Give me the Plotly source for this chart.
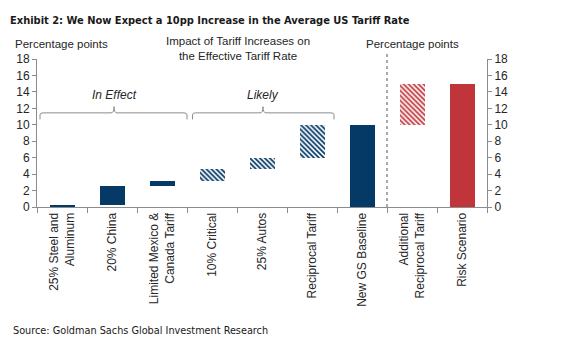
import plotly.graph_objects as go

# ---- data -------------------------------------------------------------
categories = [
    "25% Steel and<br>Aluminum",
    "20% China",
    "Limited Mexico &<br>Canada Tariff",
    "10% Critical",
    "25% Autos",
    "Reciprocal Tariff",
    "New GS Baseline",
    "Additional<br>Reciprocal Tariff",
    "Risk Scenario",
]
bar_bottom = [0.0, 0.3, 2.6, 3.2, 4.6, 6.0, 0.0, 10.0, 0.0]
bar_top = [0.3, 2.6, 3.2, 4.6, 6.0, 10.0, 10.0, 15.0, 15.0]
y_ticks = [0, 2, 4, 6, 8, 10, 12, 14, 16, 18]

# which bars belong to which drawing style
solid_navy = [0, 1, 2, 6]
hatched_navy = [3, 4, 5]
hatched_red = [7]
solid_red = [8]

NAVY = "#053a66"
RED = "#c0353a"
GRID = "#8c8c8c"
TXT = "#262626"
FONT = "Liberation Sans, Arial, sans-serif"
NARROW = "Liberation Sans Narrow, Arial Narrow, DejaVu Sans Condensed, sans-serif"

W, H = 577, 345
ML, MR, MT, MB = 37, 90, 59, 138
PW, PH = W - ML - MR, H - MT - MB


def px_x(px):
    return (px - ML) / PW


def px_y(py):
    return (H - MB - py) / PH


def bar_trace(idx, color, hatch, yaxis="y"):
    xs = [categories[i] for i in idx]
    base = [bar_bottom[i] for i in idx]
    height = [bar_top[i] - bar_bottom[i] for i in idx]
    marker = dict(color=color, line=dict(width=0))
    if hatch:
        marker = dict(
            color="white",
            line=dict(width=0),
            pattern=dict(shape="\\", fgcolor=color, bgcolor="white",
                         size=3.5, solidity=0.5, fillmode="replace"),
        )
    return go.Bar(x=xs, y=height, base=base, width=0.5, marker=marker,
                  yaxis=yaxis, showlegend=False, hoverinfo="skip")


fig = go.Figure()
fig.add_trace(bar_trace(solid_navy, NAVY, False))
fig.add_trace(bar_trace(hatched_navy, NAVY, True))
fig.add_trace(bar_trace(hatched_red, RED, True, "y2"))
fig.add_trace(bar_trace(solid_red, RED, False, "y2"))

axis_common = dict(
    range=[0, 18], tickvals=y_ticks, showgrid=False, zeroline=False,
    showline=True, linecolor=GRID, linewidth=1, ticks="outside",
    ticklen=4, tickcolor=GRID, tickfont=dict(family=FONT, size=12, color=TXT),
)

fig.update_layout(
    width=W, height=H,
    margin=dict(l=ML, r=MR, t=MT, b=MB, pad=0),
    plot_bgcolor="white", paper_bgcolor="white",
    barmode="overlay", bargap=0,
    font=dict(family=FONT, size=12, color=TXT),
    title=dict(
        text="<b>Exhibit 2: We Now Expect a 10pp Increase in the Average US Tariff Rate</b>",
        font=dict(family=NARROW, size=11, color="#1a1a1a"),
        xref="container", yref="container",
        x=10 / W, xanchor="left", y=1 - 20 / H, yanchor="middle",
    ),
    xaxis=dict(
        type="category", categoryorder="array", categoryarray=categories,
        range=[-0.5, len(categories) - 0.5],
        tickson="boundaries", ticks="outside", ticklen=5, tickcolor=GRID,
        showline=True, linecolor=GRID, linewidth=1, showgrid=False,
        tickangle=-90, tickfont=dict(family=FONT, size=12, color=TXT),
    ),
    yaxis=dict(side="left", **axis_common),
    yaxis2=dict(side="right", overlaying="y", anchor="x", **axis_common),
)

# brackets grouping the components
def bracket(x0, x1, xc, y=11.45, drop=10.65, rise=12.2, r=0.06):
    return (f"M {x0},{drop} L {x0},{y - 0.25} Q {x0},{y} {x0 + r},{y} "
            f"L {xc - r},{y} Q {xc},{y} {xc},{rise} Q {xc},{y} {xc + r},{y} "
            f"L {x1 - r},{y} Q {x1},{y} {x1},{y - 0.25} L {x1},{drop}")


for x0, x1, xc, label in [(-0.44, 2.5, 1.04, "In Effect"),
                          (2.61, 5.44, 4.02, "Likely")]:
    fig.add_shape(type="path", path=bracket(x0, x1, xc), xref="x", yref="y",
                  line=dict(color=GRID, width=1))
    fig.add_annotation(x=xc, y=13.6, xref="x", yref="y", text=f"<i>{label}</i>",
                       showarrow=False, font=dict(family=FONT, size=12, color=TXT))

# separator between baseline and risk scenario
fig.add_shape(type="line", x0=6.5, x1=6.5, y0=0, y1=px_y(51), xref="x", yref="paper",
              line=dict(color="#555555", width=1, dash="3px,3px"))

# header texts
for x, y, txt in [(61, 44, "Percentage points"),
                  (238, 48.5, "Impact of Tariff Increases on<br>the Effective Tariff Rate"),
                  (412, 44, "Percentage points")]:
    fig.add_annotation(x=px_x(x), y=px_y(y), xref="paper", yref="paper", text=txt,
                       showarrow=False, xanchor="center", yanchor="middle",
                       font=dict(family=FONT, size=11.5, color=TXT))

fig.add_annotation(x=px_x(11), y=px_y(330), xref="paper", yref="paper",
                   text="Source: Goldman Sachs Global Investment Research",
                   showarrow=False, xanchor="left", yanchor="middle",
                   font=dict(family=NARROW, size=10.8, color="#1a1a1a"))

fig.write_html("out.html")
